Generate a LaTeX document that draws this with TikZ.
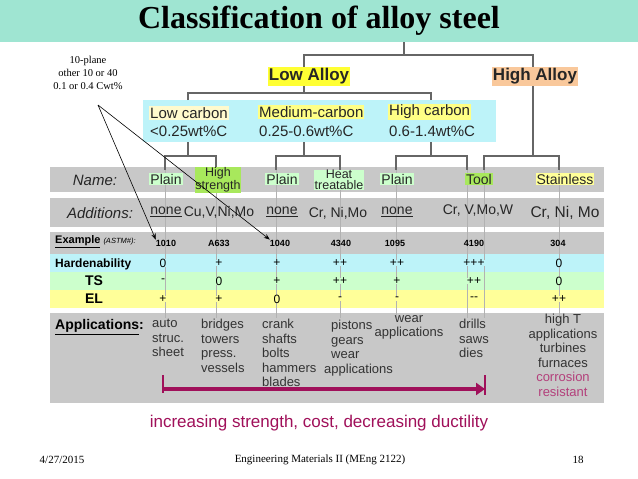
\documentclass[tikz,border=0pt]{standalone}
\usepackage{fontspec}
\setmainfont{Liberation Serif}
\setsansfont{Liberation Sans}
\usetikzlibrary{arrows.meta}
\definecolor{band}{HTML}{9FE5D2}
\definecolor{gr}{HTML}{C8C8C8}
\definecolor{cy}{HTML}{BDF3F9}
\definecolor{lg}{HTML}{CCFFCC}
\definecolor{dg}{HTML}{A8E85C}
\definecolor{yl}{HTML}{FFFF33}
\definecolor{lyl}{HTML}{FFFF99}
\definecolor{orng}{HTML}{F9C89B}
\definecolor{ly}{HTML}{FFFACD}
\definecolor{mag}{HTML}{A0105A}
\tikzset{
 tree/.style={draw=gray!80!black,line width=1.2pt},
 col/.style={draw=gray!60,line width=0.5pt},
 lab/.style={font=\sffamily\fontsize{14}{14}\selectfont,inner sep=1pt,text=black!85},
 val/.style={font=\sffamily\fontsize{12}{12}\selectfont,inner sep=0pt},
 num/.style={font=\sffamily\bfseries\fontsize{9}{9}\selectfont,inner sep=0pt},
 app/.style={font=\sffamily\fontsize{13}{14.5}\selectfont,align=left,inner sep=0pt,anchor=north west,text=black!80},
 rowlab/.style={font=\sffamily\bfseries\fontsize{12}{12}\selectfont,inner sep=0pt},
}
\begin{document}
\begin{tikzpicture}[x=1pt,y=-1pt]
\useasboundingbox (0,0) rectangle (638,479);
\fill[white] (0,0) rectangle (638,479);
\fill[band] (0,0) rectangle (638,42);
\node (title) at (319,21) {\fontsize{32}{32}\selectfont\bfseries Classification of alloy steel};
% bands
\fill[gr] (50,167) rectangle (604,192);
\fill[gr] (50,198) rectangle (604,227);
\fill[gr] (50,232) rectangle (604,254);
\fill[cy] (50,254) rectangle (604,272);
\fill[lg] (50,272) rectangle (604,290);
\fill[lyl] (50,290) rectangle (604,308);
\fill[gr] (50,313) rectangle (604,403);
\fill[cy] (143,100) rectangle (496,142);
% tree
\draw[tree] (404,42) -- (404,55);
\draw[tree] (304,67) |- (533,55) -- (533,67);
\draw[tree] (304,85) -- (304,93);
\draw[tree] (188,100) |- (431,93) -- (431,100);
\draw[tree] (188,142) -- (188,156);
\draw[tree] (304,142) -- (304,156);
\draw[tree] (431,142) -- (431,156);
\draw[tree] (533,85) -- (533,156);
\foreach \a/\b in {165/216,276/340,396/467,484/559}{
 \draw[tree] (\a,170) |- (\b,156) -- (\b,170);
 \draw[col] (\a,170) -- (\a,318);
 \draw[col] (\b,170) -- (\b,318);
}
% level 1
\node[lab,fill=yl,font=\sffamily\bfseries\fontsize{17}{17}\selectfont,minimum width=80pt,minimum height=19pt] (low) at (309,76) {Low Alloy};
\node[lab,fill=orng,font=\sffamily\bfseries\fontsize{17}{17}\selectfont,minimum width=85pt,minimum height=19pt] (high) at (535,76) {High Alloy};
% carbon
\node[lab,fill=ly,anchor=west,font=\sffamily\fontsize{15}{15}\selectfont] (lc) at (149,113) {Low carbon};
\node[lab,anchor=west,font=\sffamily\fontsize{15}{15}\selectfont] (lc2) at (149,131) {<0.25wt\%C};
\node[lab,fill=yl!60,anchor=west,font=\sffamily\fontsize{15}{15}\selectfont] (mc) at (258,112) {Medium-carbon};
\node[lab,anchor=west,font=\sffamily\fontsize{15}{15}\selectfont] (mc2) at (258,131) {0.25-0.6wt\%C};
\node[lab,fill=yl!60,anchor=west,font=\sffamily\fontsize{15}{15}\selectfont] (hc) at (388,112) {High carbon};
\node[lab,anchor=west,font=\sffamily\fontsize{15}{15}\selectfont] (hc2) at (388,131) {0.6-1.4wt\%C};
% names
\node[lab,font=\sffamily\itshape\fontsize{15}{15}\selectfont] (nm) at (95,180) {Name:};
\node[lab,fill=lg] (n1) at (166,179) {Plain};
\node[lab,fill=dg,align=center,inner sep=0.5pt,font=\sffamily\fontsize{12.5}{11}\selectfont] (n2) at (218,180) {High\\strength};
\node[lab,fill=lg] (n3) at (282,179) {Plain};
\node[lab,fill=lg,align=center,inner sep=0.5pt,font=\sffamily\fontsize{12.5}{11}\selectfont] (n4) at (339,180) {Heat\\treatable};
\node[lab,fill=lg] (n5) at (397,179) {Plain};
\node[lab,fill=dg] (n6) at (479,179) {Tool};
\node[lab,fill=lyl] (n7) at (565,179) {Stainless};
% additions
\node[lab,font=\sffamily\itshape\fontsize{15}{15}\selectfont] (ad) at (100,213) {Additions:};
\node[lab] (a1) at (166,212) {\underline{none}};
\node[lab] (a2) at (219,212) {Cu,V,Ni,Mo};
\node[lab] (a3) at (282,212) {\underline{none}};
\node[lab] (a4) at (338,213) {Cr, Ni,Mo};
\node[lab] (a5) at (397,212) {\underline{none}};
\node[lab] (a6) at (478,211) {Cr, V,Mo,W};
\node[lab,font=\sffamily\fontsize{15.5}{15.5}\selectfont] (a7) at (565,213) {Cr, Ni, Mo};
% examples
\node[anchor=west,inner sep=0pt] (ex) at (55,242) {\sffamily\bfseries\fontsize{11}{11}\selectfont\underline{Example} {\mdseries\itshape\fontsize{7.5}{7.5}\selectfont (ASTM\#):}};
\node[num] (e1) at (166,243) {1010};
\node[num] (e2) at (219,243) {A633};
\node[num] (e3) at (280,243) {1040};
\node[num] (e4) at (341,243) {4340};
\node[num] (e5) at (395,243) {1095};
\node[num] (e6) at (474,243) {4190};
\node[num] (e7) at (558,243) {304};
% property rows
\node[rowlab,anchor=west] (hd) at (55,264) {Hardenability};
\node[rowlab,font=\sffamily\bfseries\fontsize{14}{14}\selectfont] (ts) at (94,281) {TS};
\node[rowlab,font=\sffamily\bfseries\fontsize{14}{14}\selectfont] (el) at (94,299) {EL};
\foreach \x/\h/\t/\e [count=\i] in {163/0/-/+,219/+/0/+,277/+/+/0,340/++/++/-,397/++/+/-,474/+++/++/{-}{-},559/0/0/++}{
 \node[val,fill=cy] (h\i) at (\x,263) {\h};
 \node[val,fill=lg] (t\i) at (\x,281) {\t};
 \node[val,fill=lyl] (l\i) at (\x,299) {\e};
}
% applications
\node[rowlab,anchor=west,font=\sffamily\bfseries\fontsize{14}{14}\selectfont] (ap) at (55,327) {\underline{Applications}:};
\node[app] (p1) at (152,319) {auto\\struc.\\sheet};
\node[app] (p2) at (201,319) {bridges\\towers\\press.\\vessels};
\node[app] (p3) at (262,319) {crank\\shafts\\bolts\\hammers\\blades};
\node[app] (p4) at (324,320) {\hspace{7pt}pistons\\\hspace{7pt}gears\\\hspace{7pt}wear\\applications};
\node[app,align=center,anchor=north] (p5) at (409,315) {wear\\applications};
\node[app] (p6) at (459,319) {drills\\saws\\dies};
\node[app,align=center,anchor=north] (p7) at (563,314) {high T\\applications\\turbines\\furnaces\\\textcolor{mag!80}{corrosion}\\\textcolor{mag!80}{resistant}};
\coordinate (s1) at (163,375);
\coordinate (s2) at (485,375);
\coordinate (s1b) at (163,389);
\coordinate (s2b) at (485,389);
\draw[mag,line width=2pt] (s1) -- ++(0,18);
\draw[mag,line width=2pt] (s2) -- ++(0,20);
\draw[mag,line width=4pt,-{Triangle[length=9pt,width=12pt]}] (s1b) -- (s2b);
\node[text=mag,font=\sffamily\fontsize{17}{17}\selectfont] (inc) at (319,423) {increasing strength, cost, decreasing ductility};
% callout
\node[align=center,font=\fontsize{10.5}{13}\selectfont] (call) at (88,73) {10-plane\\other 10 or 40\\0.1 or 0.4 Cwt\%};
\coordinate (cb) at (98,105);
\draw[-{Stealth[length=6pt]},line width=0.6pt] (cb) -- (e1.north west);
\draw[-{Stealth[length=6pt]},line width=0.6pt] (cb) -- (e3.north west);
% footer
\node[font=\fontsize{11}{11}\selectfont] (f1) at (62,460) {4/27/2015};
\node[font=\fontsize{11}{11}\selectfont] (f2) at (320,460) {Engineering Materials II (MEng 2122)};
\node[font=\fontsize{11}{11}\selectfont] (f3) at (578,460) {18};
\end{tikzpicture}
\end{document}
